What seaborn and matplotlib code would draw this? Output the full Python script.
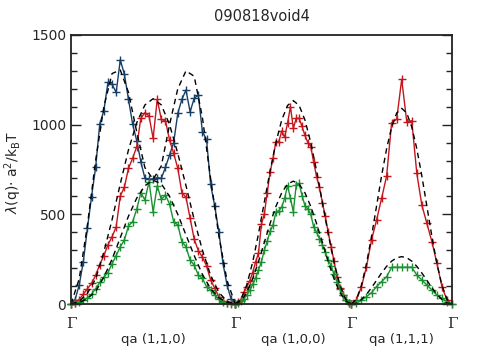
import numpy as np
import pandas as pd
import matplotlib
matplotlib.use("Agg")
import matplotlib.pyplot as plt
import seaborn as sns

"""
Values read off the reference picture
"""

title = "090818void4"
seg_names = ["qa (1,1,0)", "qa (1,0,0)", "qa (1,1,1)"]
seg_len = [np.sqrt(2), 1.0, np.sqrt(3) / 2]   # path length of each Gamma-Gamma segment
seg_npts = [41, 41, 21]                        # measured q points per segment

# measured lambda(q) a^2/kT along each segment
blue_110 = [0, 25, 106, 236, 422, 598, 762, 1004, 1078, 1236, 1225, 1180, 1361, 1281, 1141,
            1004, 911, 794, 701, 695, 698, 704, 701, 762, 831, 900, 1063, 1141, 1193, 1072,
            1147, 1165, 961, 918, 667, 546, 403, 227, 106, 26, 0]
red_110 = [0, 8, 25, 55, 85, 115, 160, 220, 270, 330, 375, 430, 602, 651, 757, 812, 877, 1035,
           1067, 1048, 924, 1141, 1029, 1022, 914, 840, 757, 621, 595, 479, 361, 298, 261, 213,
           134, 88, 41, 19, 8, 3, 0]
green_110 = [0, 3, 10, 20, 35, 55, 85, 120, 150, 175, 225, 270, 319, 357, 435, 459, 528, 621,
             580, 682, 515, 658, 583, 608, 557, 459, 441, 348, 319, 245, 217, 162, 143, 97, 78,
             50, 26, 13, 4, 1, 0]
red_100 = [0, 12, 25, 65, 97, 130, 175, 235, 283, 445, 500, 620, 735, 812, 905, 905, 965, 930,
           1008, 1100, 980, 1035, 1035, 990, 940, 900, 878, 790, 710, 650, 565, 490, 400, 320,
           240, 150, 92, 50, 25, 8, 0]
green_100 = [0, 8, 17, 30, 50, 76, 110, 145, 190, 235, 300, 350, 405, 440, 512, 520, 540, 590,
             660, 590, 515, 665, 672, 605, 548, 530, 500, 430, 400, 365, 330, 290, 246, 214, 165,
             125, 85, 50, 25, 8, 0]
red_111 = [0, 22, 97, 208, 357, 468, 589, 714, 1011, 1030, 1253, 1017, 1022, 729, 552, 450, 348,
           227, 97, 22, 0]
green_111 = [0, 4, 22, 41, 63, 97, 125, 152, 205, 205, 205, 205, 205, 162, 134, 106, 78, 50, 32,
             13, 0]

# theory curves (dashed), 21 points per segment
dash_npts = 21
dash_blue_110 = [0, 140, 440, 800, 1100, 1285, 1305, 1180, 960, 760, 695, 770, 1000, 1200, 1300,
                 1270, 1040, 700, 380, 130, 0]
dash_red_110 = [0, 15, 60, 140, 290, 470, 670, 860, 1010, 1110, 1145, 1110, 1000, 840, 660, 470,
                300, 160, 65, 15, 0]
dash_green_110 = [0, 8, 30, 70, 150, 250, 370, 490, 590, 660, 690, 670, 600, 500, 385, 270, 165,
                  85, 35, 8, 0]
dash_red_100 = [0, 28, 108, 234, 391, 567, 743, 900, 1026, 1107, 1134, 1107, 1026, 900, 743, 567,
                391, 234, 108, 28, 0]
dash_green_100 = [0, 17, 65, 141, 236, 343, 449, 544, 620, 669, 685, 669, 620, 544, 449, 343, 236,
                  141, 65, 17, 0]
dash_red_111 = [0, 27, 104, 225, 377, 546, 715, 866, 987, 1065, 1091, 1065, 987, 866, 715, 546,
                377, 225, 104, 27, 0]
dash_green_111 = [0, 6, 25, 54, 91, 132, 173, 210, 239, 258, 264, 258, 239, 210, 173, 132, 91, 54,
                  25, 6, 0]

colors = {"blue": "#173f66", "red": "#c4161c", "green": "#1a9130"}

gamma = np.concatenate([[0], np.cumsum(seg_len)])


def qgrid(seg, n):
    return np.linspace(gamma[seg], gamma[seg + 1], n)


meas = {
    "blue": [(0, blue_110)],
    "red": [(0, red_110), (1, red_100), (2, red_111)],
    "green": [(0, green_110), (1, green_100), (2, green_111)],
}
theory = {
    "b110": (0, dash_blue_110), "r110": (0, dash_red_110), "g110": (0, dash_green_110),
    "r100": (1, dash_red_100), "g100": (1, dash_green_100),
    "r111": (2, dash_red_111), "g111": (2, dash_green_111),
}

rows = []
for mode, parts in meas.items():
    for seg, vals in parts:
        for q, v in zip(qgrid(seg, seg_npts[seg]), vals):
            rows.append({"q": q, "lam": v, "mode": mode})
df = pd.DataFrame(rows)

drows = []
for name, (seg, vals) in theory.items():
    for q, v in zip(qgrid(seg, dash_npts), vals):
        drows.append({"q": q, "lam": v, "curve": name})
dft = pd.DataFrame(drows)

sns.set_style("ticks")
plt.rcParams["font.family"] = ["DejaVu Sans"]

fig = plt.figure(figsize=(4.92, 3.54), dpi=100)
ax = fig.add_axes([71 / 492, 1 - 304 / 354, 381 / 492, 269 / 354])

sns.lineplot(data=df, x="q", y="lam", hue="mode", palette=colors, estimator=None,
             sort=False, linewidth=1.0, legend=False, ax=ax)
# seaborn paints marker edges white by default -> give the crosses the line colour
for ln in ax.lines:
    ln.set_marker("+")
    ln.set_markersize(6)
    ln.set_markeredgewidth(1.0)
    ln.set_markeredgecolor(ln.get_color())
    ln.set_linestyle("-")
    ln.set_clip_on(False)

sns.lineplot(data=dft, x="q", y="lam", units="curve", estimator=None, sort=False,
             color="black", linewidth=1.0, legend=False, ax=ax)
for ln in ax.lines[len(meas):]:
    ln.set_linestyle((0, (4, 3)))

ax.set_xlim(gamma[0], gamma[-1])
ax.set_ylim(0, 1500)
ax.set_xticks(gamma)
ax.set_xticklabels(["Γ"] * len(gamma), family=["DejaVu Serif"], fontsize=11)
ax.tick_params(axis="x", length=0, pad=9)
ax.set_yticks([0, 500, 1000, 1500])
ax.set_yticks(np.arange(0, 1501, 100), minor=True)
ax.tick_params(axis="y", which="both", direction="in", left=True, right=True,
               labelsize=10, width=1.0, color="#222222")
ax.tick_params(axis="y", which="major", length=7)
ax.tick_params(axis="y", which="minor", length=4)
for sp in ax.spines.values():
    sp.set_visible(True)
    sp.set_linewidth(1.3)
    sp.set_color("#222222")

ax.set_xlabel("")
ax.set_ylabel(r"$\lambda$(q)$\cdot$ a$^2$/k$_\mathrm{B}$T", fontsize=10)
ax.yaxis.set_label_coords(-47 / 381, 0.49)
ax.set_title(title, fontsize=10.5, pad=10)

for i, name in enumerate(seg_names):
    ax.text((gamma[i] + gamma[i + 1]) / 2, -36 / 269, name, transform=ax.get_xaxis_transform(),
            ha="center", va="center", fontsize=9.5)

fig.savefig("out.png", dpi=100)
